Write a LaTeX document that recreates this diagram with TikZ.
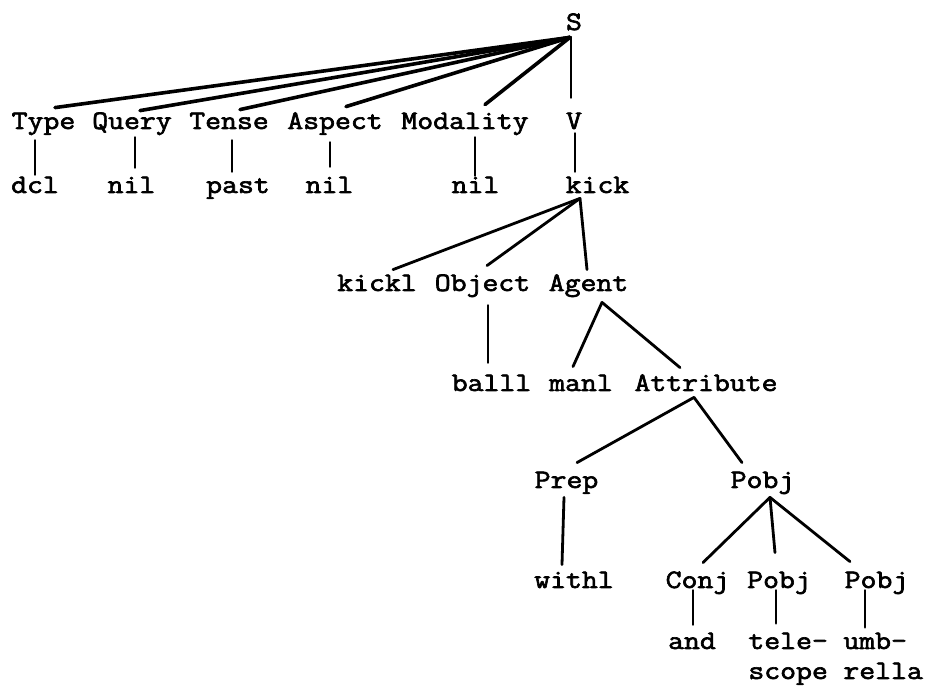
\documentclass[tikz,border=0pt]{standalone}
\usepackage{fontspec}
\newfontfamily\twfont[FakeBold=2.4,FakeStretch=1.16]{Latin Modern Mono}
\usetikzlibrary{calc}
\tikzset{
  lbl/.style={font=\twfont\fontsize{13.3}{15}\selectfont, inner sep=0pt, anchor=base, text height=8pt, text depth=3pt},
  lbltwo/.style={font=\twfont\fontsize{13.3}{15}\selectfont, inner sep=0pt, anchor=base west, align=left, text width=46pt},
  conn/.style={line width=1.4pt, line cap=round},
  sconn/.style={line width=1.8pt, line cap=round}
}
\begin{document}
\begin{tikzpicture}[x=0.5pt,y=-0.5pt]
\useasboundingbox (0,0) rectangle (928,689);
% nodes
\node[lbl] (S) at (574,30) {S};
\node[lbl] (type) at (43.5,129) {Type};
\node[lbl] (query) at (132,129) {Query};
\node[lbl] (tense) at (229,129) {Tense};
\node[lbl] (aspect) at (335,129) {Aspect};
\node[lbl] (modality) at (465,129) {Modality};
\node[lbl] (V) at (574,129) {V};
\node[lbl] (dcl) at (35,193) {dcl};
\node[lbl] (nilA) at (131.5,193) {nil};
\node[lbl] (past) at (238,193) {past};
\node[lbl] (nilB) at (329.5,193) {nil};
\node[lbl] (nilC) at (475.5,193) {nil};
\node[lbl] (kick) at (597.5,193) {kick};
\node[lbl] (kickl) at (377,291) {kickl};
\node[lbl] (object) at (482.5,291) {Object};
\node[lbl] (agent) at (588.5,291) {Agent};
\node[lbl] (balll) at (491.5,391) {balll};
\node[lbl] (manl) at (581,391) {manl};
\node[lbl] (attr) at (706,391) {Attribute};
\node[lbl] (prep) at (566.5,488) {Prep};
\node[lbl] (pobj) at (762.5,488) {Pobj};
\node[lbl] (withl) at (574,588) {withl};
\node[lbl] (conj) at (697.5,588) {Conj};
\node[lbl] (pobjB) at (779,588) {Pobj};
\node[lbl] (pobjC) at (876.5,588) {Pobj};
\node[lbl] (and) at (692,649) {and};
\node[lbltwo] (tele) at (748,649) {tele-\\scope};
\node[lbltwo] (umb) at (843,649) {umb-\\rella};
% connectors from S
\draw[sconn] ($(S.south)+(-4,1)$) -- ($(type.north)+(11.5,-5)$);
\draw[sconn] ($(S.south)+(-4,1)$) -- ($(query.north)+(8,-2)$);
\draw[sconn] ($(S.south)+(-4,1)$) -- ($(tense.north)+(11,-3)$);
\draw[sconn] ($(S.south)+(-4,1)$) -- ($(aspect.north)+(11,-6)$);
\draw[sconn] ($(S.south)+(-4,1)$) -- ($(modality.north)+(20,-8)$);
\draw[conn] ($(S.south)+(-3,1)$) -- ($(V.north)+(-3,-15)$);
% row 1 to row 2
\draw[conn] ($(type.south)+(-8.5,5)$) -- ($(dcl.north)+(0,-2)$);
\draw[conn] ($(query.south)+(3,2)$) -- ($(nilA.north)+(3.5,-9)$);
\draw[conn] ($(tense.south)+(3,5)$) -- ($(past.north)+(-6,-5)$);
\draw[conn] ($(aspect.south)+(-5,7)$) -- ($(nilB.north)+(0.5,-10)$);
\draw[conn] ($(modality.south)+(10,2)$) -- ($(nilC.north)+(-0.5,-1)$);
\draw[conn] ($(V.south)+(1,-2)$) -- ($(kick.north)+(-22.5,-5)$);
% kick
\draw[conn] ($(kick.south)+(-17.5,-1)$) -- ($(kickl.north)+(16,-5)$);
\draw[conn] ($(kick.south)+(-17.5,-1)$) -- ($(object.north)+(4.5,-9)$);
\draw[conn] ($(kick.south)+(-17.5,-1)$) -- ($(agent.north)+(-1.5,-5)$);
% object, agent
\draw[conn] ($(object.south)+(5.5,8)$) -- ($(balll.north)+(-3.5,-12)$);
\draw[conn] ($(agent.south)+(13.5,5)$) -- ($(manl.north)+(-8,-8)$);
\draw[conn] ($(agent.south)+(13.5,5)$) -- ($(attr.north)+(-26,-7)$);
% attribute
\draw[conn] ($(attr.south)+(-12,0)$) -- ($(prep.north)+(10.5,-9)$);
\draw[conn] ($(attr.south)+(-12,0)$) -- ($(pobj.north)+(-20.5,-9)$);
% prep, pobj
\draw[conn] ($(prep.south)+(-2.5,3)$) -- ($(withl.north)+(-12,-7)$);
\draw[conn] ($(pobj.south)+(7.5,3)$) -- ($(conj.north)+(5.5,-9)$);
\draw[conn] ($(pobj.south)+(7.5,3)$) -- ($(pobjB.north)+(-4,-19)$);
\draw[conn] ($(pobj.south)+(7.5,3)$) -- ($(pobjC.north)+(-26.5,-10)$);
% bottom
\draw[conn] ($(conj.south)+(-4.5,-4)$) -- ($(and.north)+(1,-8)$);
\draw[conn] ($(pobjB.south)+(-3,-4)$) -- ($(tele.north west)+(28,-9)$);
\draw[conn] ($(pobjC.south)+(-11.5,-4)$) -- ($(umb.north west)+(22,-5)$);
\end{tikzpicture}
\end{document}
